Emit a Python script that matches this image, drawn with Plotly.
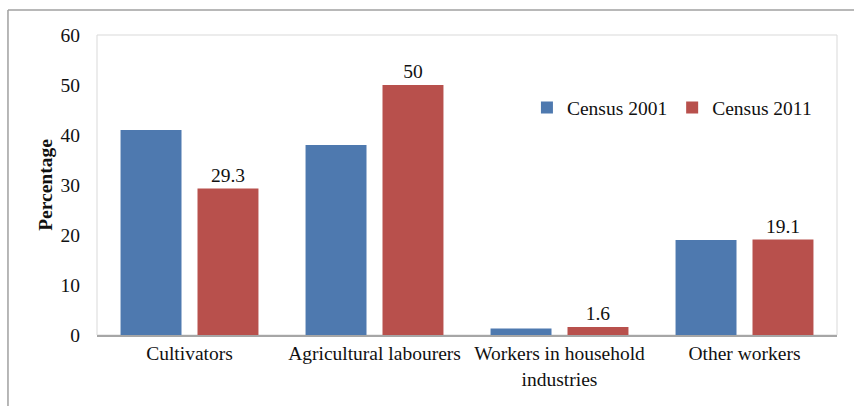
import plotly.graph_objects as go

categories = ["Cultivators", "Agricultural labourers", "Workers in household<br>industries", "Other workers"]
census_2001 = [41, 38, 1.3, 19]
census_2011 = [29.3, 50, 1.6, 19.1]
labels_2011 = ["29.3", "50", "1.6", "19.1"]
y_ticks = [0, 10, 20, 30, 40, 50, 60]

FONT = "Liberation Serif, Times New Roman, serif"
FS = 19.5

fig = go.Figure()
fig.add_trace(go.Bar(
    name="Census 2001", x=categories, y=census_2001,
    marker=dict(color="#4E79AF", line=dict(width=0)),
))
fig.add_trace(go.Bar(
    name="Census 2011", x=categories, y=census_2011,
    marker=dict(color="#B8504C", line=dict(width=0)),
    text=labels_2011, textposition="outside", cliponaxis=False,
    textfont=dict(family=FONT, size=FS, color="#111111"),
))

fig.update_layout(
    width=854, height=406,
    margin=dict(l=97, r=17, t=35, b=71),
    paper_bgcolor="white", plot_bgcolor="white",
    barmode="group", bargap=0.168, bargroupgap=0.208,
    font=dict(family=FONT, size=FS, color="#111111"),
    showlegend=True,
    legend=dict(
        orientation="h", x=0.581, y=0.757, xanchor="left", yanchor="middle",
        font=dict(family=FONT, size=FS, color="#111111"),
        bgcolor="rgba(0,0,0,0)", itemwidth=30, traceorder="normal",
    ),
    xaxis=dict(
        showline=True, linecolor="#A6A6A6", linewidth=1.5, mirror=False,
        ticks="", tickfont=dict(family=FONT, size=FS, color="#111111"),
        showgrid=False,
    ),
    yaxis=dict(
        range=[0, 60], tickvals=y_ticks, showgrid=False,
        showline=False, zeroline=False, ticks="",
        tickfont=dict(family=FONT, size=FS, color="#111111"),
        ticklabelstandoff=16,
        title=dict(text="<b>Percentage</b>", font=dict(family=FONT, size=FS, color="#111111"), standoff=2),
    ),
    shapes=[
        dict(type="rect", xref="paper", yref="paper", x0=0, x1=1, y0=0, y1=1,
             line=dict(color="#D9D9D9", width=1), layer="below"),
        dict(type="line", xref="paper", yref="paper", x0=-0.1203, x1=1.05, y0=1.0833, y1=1.0833,
             line=dict(color="#A0A0A0", width=1.5)),
        dict(type="line", xref="paper", yref="paper", x0=-0.1203, x1=-0.1203, y0=-0.3, y1=1.0833,
             line=dict(color="#A0A0A0", width=1.5)),
    ],
)

fig.write_html("out.html")
